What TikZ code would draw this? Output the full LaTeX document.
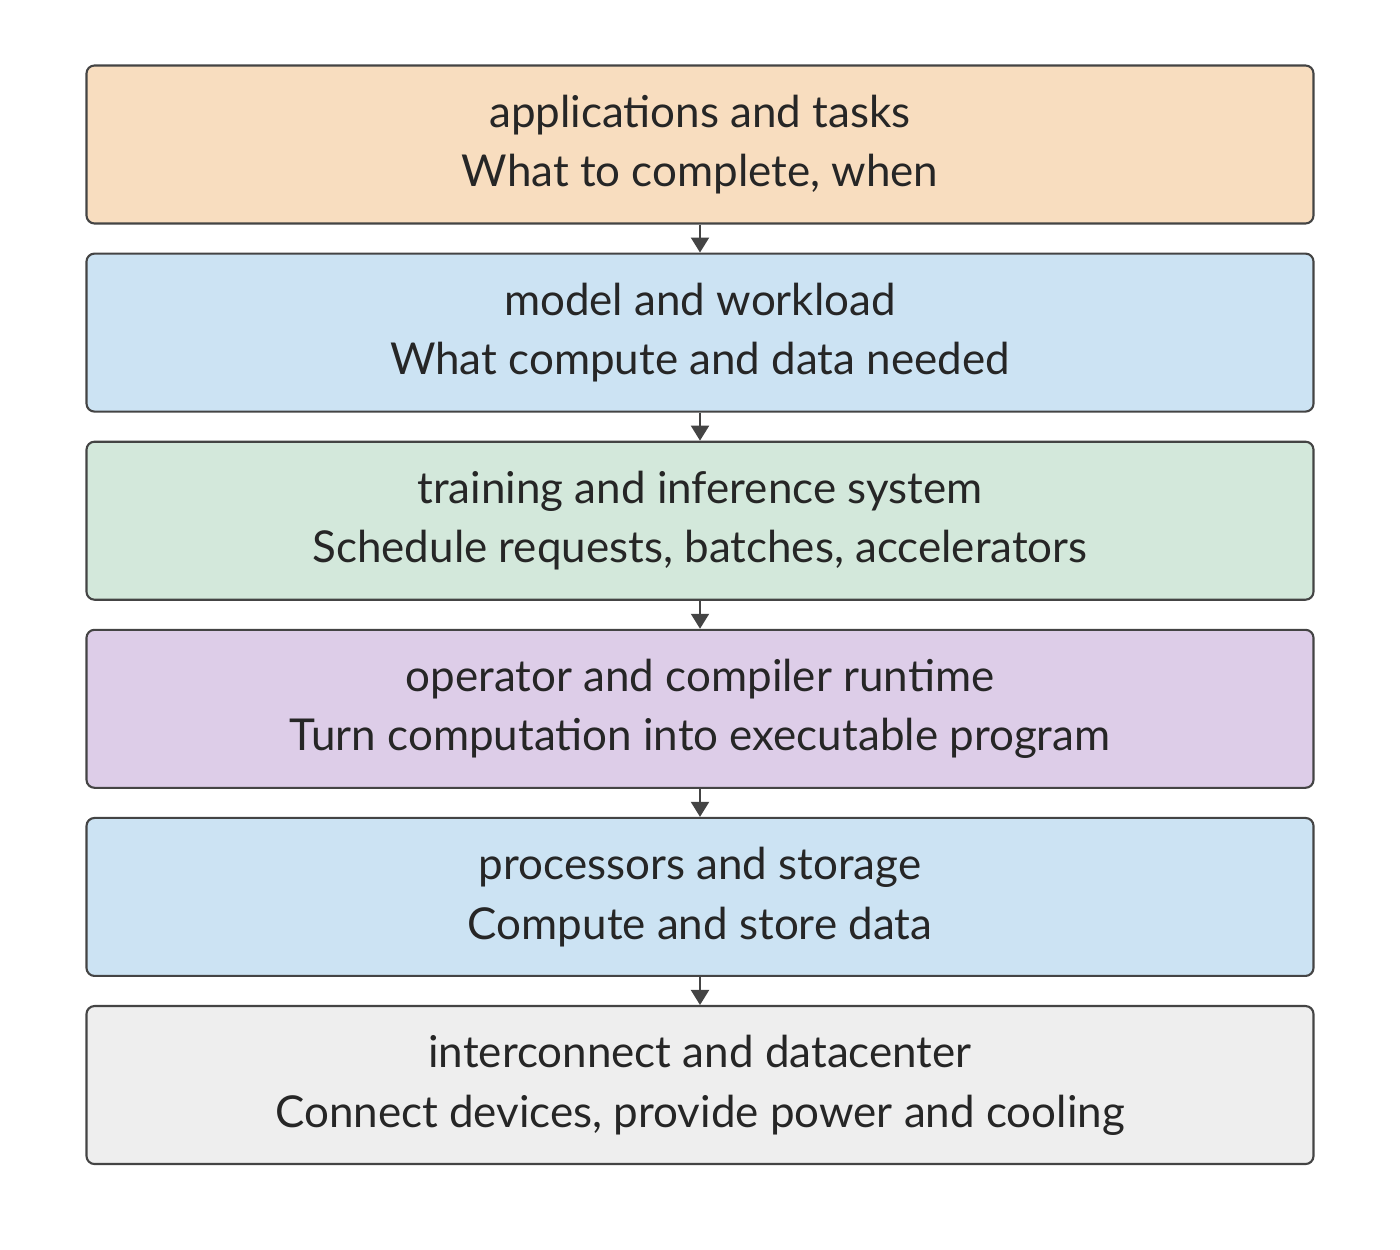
\documentclass[tikz,border=0pt]{standalone}
\usepackage{fontspec}
\setmainfont{Lato}
\usetikzlibrary{positioning,arrows.meta}
\definecolor{coulApp}{HTML}{F8DDBF}
\definecolor{coulMod}{HTML}{CCE3F3}
\definecolor{coulSys}{HTML}{D3E8DB}
\definecolor{coulOp}{HTML}{DDCDE8}
\definecolor{coulDc}{HTML}{EEEEEE}
\definecolor{bord}{HTML}{444444}
\begin{document}
\begin{tikzpicture}
	\tikzset{couche/.style={rectangle, rounded corners=0.16cm, draw=bord, line width=1.2pt, minimum width=24.54cm, minimum height=3.16cm, align=center, font=\fontsize{25}{34}\selectfont, text=black!85},
		fleche/.style={-{Triangle[width=0.36cm,length=0.3cm]}, draw=bord, line width=1.2pt}};
	\useasboundingbox (0,0) rectangle (28,25);
	\node[couche, fill=coulApp] (app) at (14,22.11) {applications and tasks\\What to complete, when};
	\node[couche, fill=coulMod, below=0.56cm of app] (mod) {model and workload\\What compute and data needed};
	\node[couche, fill=coulSys, below=0.56cm of mod] (sys) {training and inference system\\Schedule requests, batches, accelerators};
	\node[couche, fill=coulOp, below=0.56cm of sys] (op) {operator and compiler runtime\\Turn computation into executable program};
	\node[couche, fill=coulMod, below=0.56cm of op] (proc) {processors and storage\\Compute and store data};
	\node[couche, fill=coulDc, below=0.56cm of proc] (dc) {interconnect and datacenter\\Connect devices, provide power and cooling};

	\draw[fleche] (app) -- (mod);
	\draw[fleche] (mod) -- (sys);
	\draw[fleche] (sys) -- (op);
	\draw[fleche] (op) -- (proc);
	\draw[fleche] (proc) -- (dc);
\end{tikzpicture}
\end{document}
